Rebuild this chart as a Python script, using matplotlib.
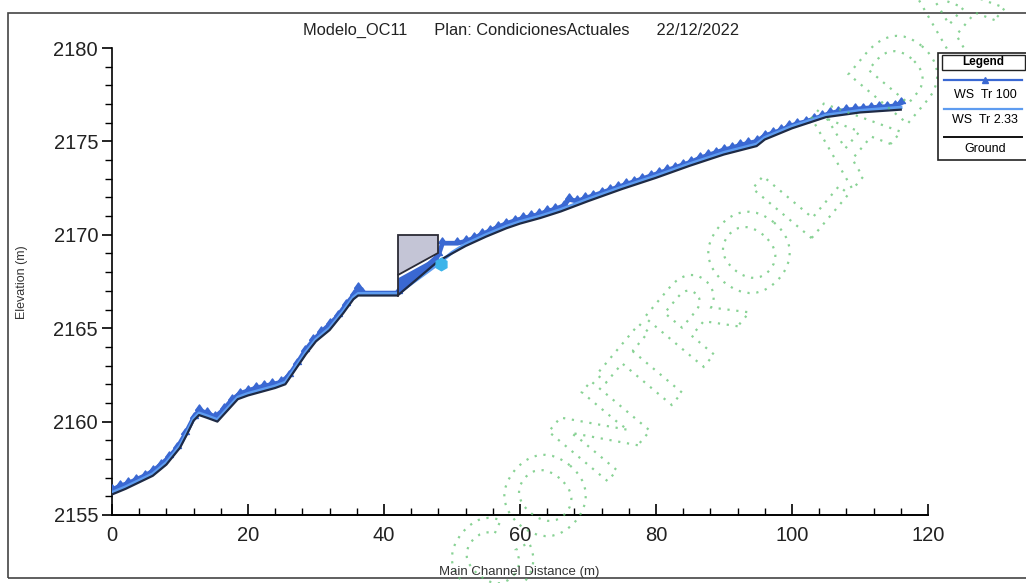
import matplotlib.pyplot as plt
from matplotlib.patches import Polygon, Rectangle, PathPatch
from matplotlib.lines import Line2D
from matplotlib.textpath import TextPath
from matplotlib.font_manager import FontProperties
from matplotlib.transforms import Affine2D
from matplotlib.ticker import MultipleLocator

plt.rcParams['font.family'] = ['Liberation Sans', 'DejaVu Sans']

# Ground profile (main channel distance, elevation)
ground_x = [0, 2, 4, 6, 8, 10, 11, 12, 12.8, 14, 15.5, 17, 18.5, 20, 22, 24, 25.5, 27,
            28.5, 30, 32, 34, 35.5, 36.2, 42, 48, 50, 52, 55, 58, 60, 63, 66, 70, 75,
            80, 85, 90, 94.8, 96, 100, 105, 110, 116]
ground_y = [2156.10, 2156.40, 2156.75, 2157.10, 2157.70, 2158.60, 2159.30, 2160.05,
            2160.35, 2160.20, 2160.00, 2160.60, 2161.20, 2161.40, 2161.60, 2161.80,
            2162.00, 2162.80, 2163.60, 2164.30, 2164.90, 2165.80, 2166.55, 2166.75,
            2166.75, 2168.60, 2169.00, 2169.40, 2169.90, 2170.35, 2170.60, 2170.90,
            2171.25, 2171.80, 2172.45, 2173.05, 2173.70, 2174.30, 2174.75, 2175.10,
            2175.70, 2176.30, 2176.55, 2176.70]

# WS Tr 2.33 on the ground stations
ws233_y = [2156.20, 2156.50, 2156.85, 2157.20, 2157.80, 2158.70, 2159.40, 2160.15,
           2160.45, 2160.30, 2160.10, 2160.70, 2161.30, 2161.50, 2161.70, 2161.90,
           2162.10, 2162.90, 2163.70, 2164.40, 2165.00, 2165.90, 2166.65, 2166.85,
           2166.85, 2168.45, 2169.05, 2169.50, 2170.00, 2170.45, 2170.70, 2171.00,
           2171.35, 2171.90, 2172.55, 2173.15, 2173.80, 2174.40, 2174.85, 2175.20,
           2175.80, 2176.40, 2176.65, 2176.82]

# WS Tr 100 at every cross section
ws100_x = [0.0, 1.2, 2.4, 3.6, 4.8, 6.0, 7.2, 8.4, 9.6, 10.8, 12.0, 12.8, 14.0, 15.2,
           16.4, 17.6, 18.8, 20.0, 21.2, 22.4, 23.6, 24.8, 26.0, 27.2, 28.4, 29.6,
           30.8, 32.0, 33.2, 34.4, 35.6, 36.2, 36.8, 42.0, 48.0, 48.6, 50.8, 52.0,
           53.2, 54.4, 55.6, 56.8, 58.0, 59.2, 60.4, 61.6, 62.8, 64.0, 65.2, 66.4,
           67.2, 68.4, 69.6, 70.8, 72.0, 73.2, 74.4, 75.6, 76.8, 78.0, 79.2, 80.4,
           81.6, 82.8, 84.0, 85.2, 86.4, 87.6, 88.8, 90.0, 91.2, 92.4, 93.6, 94.8,
           96.0, 97.2, 98.4, 99.6, 100.8, 102.0, 103.2, 104.4, 105.6, 106.8, 108.0,
           109.2, 110.4, 111.6, 112.8, 114.0, 115.2, 116.0]
ws100_y = [2156.35, 2156.55, 2156.70, 2156.90, 2157.10, 2157.35, 2157.70, 2158.10,
           2158.60, 2159.35, 2160.20, 2160.60, 2160.45, 2160.25, 2160.65, 2161.15,
           2161.50, 2161.65, 2161.80, 2161.90, 2162.00, 2162.10, 2162.45, 2163.10,
           2163.80, 2164.35, 2164.80, 2165.20, 2165.65, 2166.25, 2166.80, 2167.15,
           2166.88, 2166.88, 2168.90, 2169.55, 2169.55, 2169.65, 2169.82, 2170.02,
           2170.22, 2170.42, 2170.60, 2170.75, 2170.88, 2170.98, 2171.10, 2171.25,
           2171.38, 2171.55, 2171.90, 2171.80, 2171.95, 2172.10, 2172.25, 2172.40,
           2172.55, 2172.70, 2172.85, 2173.00, 2173.15, 2173.30, 2173.45, 2173.60,
           2173.75, 2173.90, 2174.10, 2174.25, 2174.40, 2174.55, 2174.65, 2174.80,
           2174.90, 2175.00, 2175.30, 2175.45, 2175.60, 2175.80, 2175.95, 2176.05,
           2176.20, 2176.35, 2176.50, 2176.60, 2176.68, 2176.72, 2176.76, 2176.80,
           2176.84, 2176.86, 2176.90, 2177.05]

# Bridge
bridge_x = [42.0, 48.0]
deck_top = [2170.0, 2170.0]
deck_low = [2167.85, 2169.05]
bridge_ground = [2166.75, 2168.60]
bridge_water = [2167.70, 2168.90]

# lone WS Tr 2.33 point at bridge exit
exit_x = [48.4]
exit_y = [2168.45]

ws100_color = '#3a68d2'
ws233_color = '#5e9cf0'
tooth = [(-1.0, 0.0), (1.0, 0.0), (0.0, 1.4), (-1.0, 0.0)]  # triangle sitting on the line

fig = plt.figure(figsize=(10.26, 5.83), dpi=100)
ax = fig.add_axes([112 / 1026, 1 - 515 / 583, 816 / 1026, 467 / 583])

ax.plot(ws100_x, ws100_y, color=ws100_color, lw=3.4, marker=tooth, ms=8,
        mec=ws100_color, mfc=ws100_color, zorder=3)
ax.plot(ground_x, ws233_y, color=ws233_color, lw=2.4, zorder=4)
ax.plot(ground_x, ground_y, color='#1e2a45', lw=1.6, zorder=5)

# water under the bridge and deck
ax.fill_between(bridge_x, bridge_ground, bridge_water, color=ws100_color, zorder=4, lw=0)
deck = Polygon([(bridge_x[0], deck_low[0]), (bridge_x[0], deck_top[0]),
                (bridge_x[1], deck_top[1]), (bridge_x[1], deck_low[1])],
               closed=True, facecolor='#c4c5d6', edgecolor='#2b2b35', lw=1.3, zorder=6)
ax.add_patch(deck)
ax.plot([bridge_x[0], bridge_x[0]], [deck_low[0], bridge_ground[0]], color='#2b2b35', lw=1.3, zorder=6)
ax.plot(exit_x, exit_y, 'h', color='#3cb4ea', ms=9, zorder=7)

ax.set_xlim(0, 120)
ax.set_ylim(2155, 2180)
ax.xaxis.set_major_locator(MultipleLocator(20))
ax.xaxis.set_minor_locator(MultipleLocator(4))
ax.yaxis.set_major_locator(MultipleLocator(5))
ax.yaxis.set_minor_locator(MultipleLocator(1))
ax.tick_params(axis='x', which='major', direction='in', length=8, width=1.2, labelsize=14.5, pad=8)
ax.tick_params(axis='x', which='minor', direction='in', length=5, width=1)
ax.tick_params(axis='y', which='major', direction='out', length=7, width=1.2, labelsize=14.5, pad=3)
ax.tick_params(axis='y', which='minor', direction='out', length=5, width=1)
ax.spines['top'].set_visible(False)
ax.spines['right'].set_visible(False)
ax.spines['left'].set_linewidth(1.2)
ax.spines['bottom'].set_linewidth(1.4)
for lab in ax.get_xticklabels() + ax.get_yticklabels():
    lab.set_color('#222222')

fig.text(22 / 1026, 1 - 282 / 583, 'Elevation (m)', rotation=90, ha='center', va='center',
         fontsize=9, color='#333333')
fig.text(519 / 1026, 1 - 572 / 583, 'Main Channel Distance (m)', ha='center', va='center',
         fontsize=9.5, color='#333333')
fig.text(521 / 1026, 1 - 30 / 583,
         'Modelo_OC11      Plan: CondicionesActuales      22/12/2022',
         ha='center', va='center', fontsize=11.8, color='#222222')

# outer frame
fig.add_artist(Rectangle((8 / 1026, 1 - 578 / 583), 1.2, (578 - 13) / 583,
                         transform=fig.transFigure, fill=False, ec='#444444', lw=1.2))


def fx(px):
    return px / 1026


def fy(py):
    return 1 - py / 583


# legend box
fig.add_artist(Rectangle((fx(938), fy(160)), 0.2, fy(53) - fy(160), transform=fig.transFigure,
                         fill=True, fc='white', ec='#222222', lw=1.2, zorder=10))
fig.add_artist(Rectangle((fx(942), fy(70)), fx(83), fy(55) - fy(70), transform=fig.transFigure,
                         fill=False, ec='#222222', lw=1.0, zorder=11))
fig.text(fx(983), fy(62.5), 'Legend', ha='center', va='center', fontsize=8.5,
         fontweight='bold', zorder=12)
fig.add_artist(Line2D([fx(944), fx(1022)], [fy(80), fy(80)], transform=fig.transFigure,
                      color=ws100_color, lw=1.6, zorder=12))
fig.add_artist(Line2D([fx(985)], [fy(80)], transform=fig.transFigure, color=ws100_color,
                      marker='^', ms=4.5, lw=0, zorder=12))
fig.text(fx(985), fy(95), 'WS  Tr 100', ha='center', va='center', fontsize=9, zorder=12)
fig.add_artist(Line2D([fx(944), fx(1022)], [fy(109), fy(109)], transform=fig.transFigure,
                      color=ws233_color, lw=1.6, zorder=12))
fig.text(fx(985), fy(120), 'WS  Tr 2.33', ha='center', va='center', fontsize=9, zorder=12)
fig.add_artist(Line2D([fx(944), fx(1022)], [fy(137), fy(137)], transform=fig.transFigure,
                      color='#111111', lw=1.4, zorder=12))
fig.text(fx(985), fy(149), 'Ground', ha='center', va='center', fontsize=9, zorder=12)

# dotted "CONTROLADA" stamp
tp = TextPath((0, 0), 'CONTROLADA', size=112,
              prop=FontProperties(family='Liberation Sans', weight='bold'))
bb = tp.get_extents()
stamp_tf = (Affine2D().translate(-bb.width / 2, -bb.height / 2)
            .rotate_deg(50).translate(718, 583 - 288))
fig.add_artist(PathPatch(tp, transform=stamp_tf, fill=False, ec='#62c472',
                         lw=1.6, ls=(0, (1, 3)), alpha=0.75, zorder=1))

fig.savefig('out.png', dpi=100)
